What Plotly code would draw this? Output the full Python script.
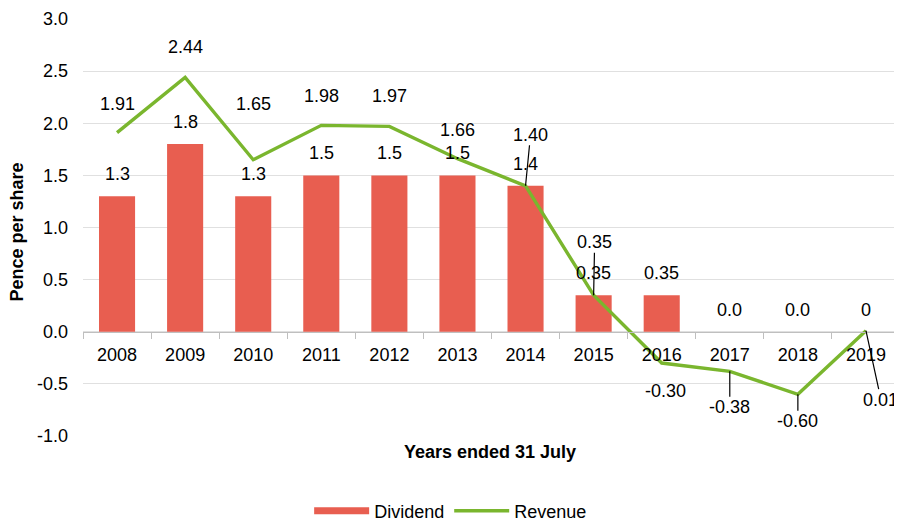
import plotly.graph_objects as go

years = ["2008", "2009", "2010", "2011", "2012", "2013", "2014", "2015", "2016", "2017", "2018", "2019"]
dividend = [1.3, 1.8, 1.3, 1.5, 1.5, 1.5, 1.4, 0.35, 0.35, 0.0, 0.0, 0.0]
dividend_labels = ["1.3", "1.8", "1.3", "1.5", "1.5", "1.5", "1.4", "0.35", "0.35", "0.0", "0.0", "0"]
revenue = [1.91, 2.44, 1.65, 1.98, 1.97, 1.66, 1.40, 0.35, -0.30, -0.38, -0.60, 0.01]
revenue_labels = ["1.91", "2.44", "1.65", "1.98", "1.97", "1.66", "1.40", "0.35", "-0.30", "-0.38", "-0.60", "0.01"]
y_tick_vals = [-1.0, -0.5, 0.0, 0.5, 1.0, 1.5, 2.0, 2.5, 3.0]
y_tick_text = ["-1.0", "-0.5", "0.0", "0.5", "1.0", "1.5", "2.0", "2.5", "3.0"]

BAR_COLOR = "#E85E50"
LINE_COLOR = "#7AB62E"
FONT = "Liberation Sans, Arial, sans-serif"
FS = 18

fig = go.Figure()
fig.add_trace(go.Bar(x=years, y=dividend, name="Dividend", marker_color=BAR_COLOR,
                     marker_line_width=0, showlegend=False))
# legend entry for the bars, drawn as a thick bar-coloured stroke
fig.add_trace(go.Scatter(x=[None], y=[None], name="Dividend", mode="lines",
                         line=dict(color=BAR_COLOR, width=7)))
fig.add_trace(go.Scatter(x=years, y=revenue, name="Revenue", mode="lines",
                         line=dict(color=LINE_COLOR, width=3.4)))

ann = []
for i, (yv, t) in enumerate(zip(dividend, dividend_labels)):
    ann.append(dict(x=i, y=yv, text=t, showarrow=False, yshift=22,
                    font=dict(size=FS, color="#000000", family=FONT)))

# revenue label placement: pixel offsets from the point, and leader line flag
rev_pos = [
    (0, -29, False), (0, -30, False), (0, -56, False), (0, -29, False),
    (0, -30, False), (0, -29, False), (5, -51, True), (1, -53, True),
    (4, 28, False), (0, 36, True), (0, 27, True), (15, 69, True),
]
for i, (yv, t) in enumerate(zip(revenue, revenue_labels)):
    dx, dy, leader = rev_pos[i]
    if leader:
        ann.append(dict(x=i, y=yv, text=t, showarrow=True, ax=dx, ay=dy,
                        arrowhead=0, arrowwidth=1.2, arrowcolor="#000000", standoff=0,
                        borderpad=0,
                        font=dict(size=FS, color="#000000", family=FONT)))
    else:
        ann.append(dict(x=i, y=yv, text=t, showarrow=False, xshift=dx, yshift=-dy,
                        font=dict(size=FS, color="#000000", family=FONT)))

ann.append(dict(xref="paper", yref="paper", x=0.498, y=-0.038,
                xanchor="center", yanchor="middle",
                text="<b>Years ended 31 July</b>", showarrow=False,
                font=dict(size=FS, color="#000000", family=FONT)))
ann.append(dict(xref="paper", yref="paper", x=-0.081, y=0.49, textangle=-90,
                xanchor="center", yanchor="middle",
                text="<b>Pence per share</b>", showarrow=False,
                font=dict(size=FS, color="#000000", family=FONT)))

# page body adds an 8px margin, so the figure is 8px smaller and margins shifted
fig.update_layout(
    width=894, height=514,
    margin=dict(l=75, r=2, t=11, b=86, autoexpand=False),
    paper_bgcolor="white", plot_bgcolor="white",
    font=dict(family=FONT, size=FS, color="#000000"),
    bargap=0.47,
    showlegend=True,
    legend=dict(orientation="h", xanchor="center", x=0.45, yanchor="middle", y=-0.18,
                font=dict(size=FS), tracegroupgap=0, itemwidth=55),
    annotations=ann,
    xaxis=dict(type="category", range=[-0.5, 11.5], anchor="free", position=0.25,
               automargin=False,
               showline=True, linecolor="#BFBFBF", linewidth=1,
               ticks="outside", tickson="boundaries", ticklen=6, tickcolor="#BFBFBF",
               showgrid=False, ticklabelstandoff=7, tickfont=dict(size=FS)),
    yaxis=dict(range=[-1, 3], tickmode="array", tickvals=y_tick_vals, ticktext=y_tick_text,
               showgrid=True, automargin=False,
               gridcolor="#E0E0E0", gridwidth=1, zeroline=False, showline=False,
               ticks="", ticklabelstandoff=14, tickfont=dict(size=FS)),
)

fig.write_html("out.html")
